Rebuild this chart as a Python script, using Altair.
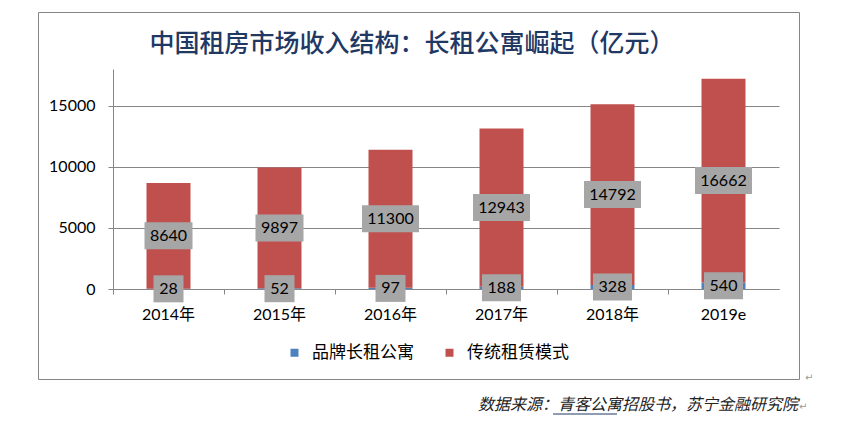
import altair as alt
import pandas as pd

years = ["2014年", "2015年", "2016年", "2017年", "2018年", "2019e"]
brand = [28, 52, 97, 188, 328, 540]
trad = [8640, 9897, 11300, 12943, 14792, 16662]
series = ["品牌长租公寓", "传统租赁模式"]
colors = ["#4F81BD", "#C0504D"]
y_ticks = [0, 5000, 10000, 15000]

title_text = "中国租房市场收入结构：长租公寓崛起（亿元）"
source_text = "数据来源：青客公寓招股书，苏宁金融研究院"

rows = []
for i, y in enumerate(years):
    rows.append({"year": y, "series": series[0], "ord": 0, "value": brand[i]})
    rows.append({"year": y, "series": series[1], "ord": 1, "value": trad[i]})
df = pd.DataFrame(rows)

NUM_FONT = "Lato, 'Noto Sans CJK SC'"
CJK_FONT = "'Noto Sans CJK SC'"

base = (
    alt.Chart(df)
    .transform_stack(
        stack="value", groupby=["year"], as_=["y0", "y1"],
        sort=[alt.SortField("ord", order="ascending")],
    )
    .transform_calculate(
        mid="(datum.y0 + datum.y1) / 2",
        nd="'n' + length(toString(datum.value))",
    )
)

x_enc = alt.X(
    "year:N", sort=years, title=None,
    scale=alt.Scale(paddingInner=0, paddingOuter=0),
    axis=alt.Axis(
        labelAngle=0, bandPosition=0, tickSize=5, labelPadding=12,
        domainColor="#868686", tickColor="#868686",
        labelFontSize=16, labelFont=NUM_FONT, labelColor="#000000",
        grid=False,
    ),
)
y_scale = alt.Scale(domain=[0, 18000], nice=False)

bars = base.mark_bar(size=44).encode(
    x=x_enc,
    y=alt.Y(
        "y0:Q", scale=y_scale, title=None,
        axis=alt.Axis(
            values=y_ticks, format="d", grid=True, gridColor="#868686", tickSize=5,
            labelPadding=13, domainColor="#868686", tickColor="#868686",
            labelFontSize=16, labelFont=NUM_FONT, labelColor="#000000",
        ),
    ),
    y2="y1:Q",
    color=alt.Color(
        "series:N",
        scale=alt.Scale(domain=series, range=colors),
        legend=alt.Legend(
            title=None, orient="none", direction="horizontal",
            legendX=173, legendY=275, padding=0,
            symbolType="square", symbolSize=64, symbolStrokeWidth=0,
            labelFont=CJK_FONT, labelFontSize=17, labelColor="#000000",
            labelOffset=9, columnPadding=27,
        ),
    ),
)

shape_paths = [
    "M-0.5,-0.45L0.5,-0.45L0.5,0.45L-0.5,0.45Z",
    "M-0.65,-0.45L0.65,-0.45L0.65,0.45L-0.65,0.45Z",
    "M-0.8,-0.45L0.8,-0.45L0.8,0.45L-0.8,0.45Z",
    "M-0.95,-0.45L0.95,-0.45L0.95,0.45L-0.95,0.45Z",
]

boxes = base.mark_point(filled=True, size=3600, opacity=1, color="#A6A6A6").encode(
    x=alt.X("year:N", sort=years),
    y=alt.Y("mid:Q", scale=y_scale),
    shape=alt.Shape(
        "nd:N",
        scale=alt.Scale(domain=["n2", "n3", "n4", "n5"], range=shape_paths),
        legend=None,
    ),
)

labels = base.mark_text(
    font=NUM_FONT, fontSize=16, color="#000000", baseline="middle", align="center"
).encode(
    x=alt.X("year:N", sort=years),
    y=alt.Y("mid:Q", scale=y_scale),
    text=alt.Text("value:Q", format="d"),
)

one = alt.Data(values=[{"a": 1}])

border = alt.Chart(one).mark_rect(fill="transparent", stroke="#868686", strokeWidth=1).encode(
    x=alt.value(-74.5), x2=alt.value(686.5), y=alt.value(-56.5), y2=alt.value(310.5)
)

title = alt.Chart(one).mark_text(
    font=CJK_FONT, fontSize=25, color="#1F3864", align="center", baseline="middle",
    fontWeight=500,
).encode(x=alt.value(299), y=alt.value(-25.5), text=alt.value(title_text))

source = alt.Chart(one).mark_text(
    font=CJK_FONT, fontSize=16, color="#222222", align="right", baseline="middle",
    fontStyle="italic",
).encode(x=alt.value(685), y=alt.value(336), text=alt.value(source_text))

underline = alt.Chart(one).mark_rule(color="#1F3864", strokeWidth=1).encode(
    x=alt.value(440), x2=alt.value(504), y=alt.value(345)
)

marks1 = alt.Chart(one).mark_text(
    font="DejaVu Sans", fontSize=10, color="#999999", align="left", baseline="middle"
).encode(x=alt.value(692), y=alt.value(309), text=alt.value("↵"))

marks2 = alt.Chart(one).mark_text(
    font="DejaVu Sans", fontSize=10, color="#999999", align="left", baseline="middle"
).encode(x=alt.value(686), y=alt.value(338), text=alt.value("↵"))

chart = (
    alt.layer(border, title, source, underline, marks1, marks2, bars, boxes, labels)
    .properties(
        width=666, height=220,
        autosize=alt.AutoSizeParams(type="none"),
        padding={"left": 105, "top": 61, "right": 50, "bottom": 130},
        background="white",
    )
    .configure_view(strokeWidth=0)
)

chart.save("out.html", embed_options={"renderer": "svg", "actions": False})
